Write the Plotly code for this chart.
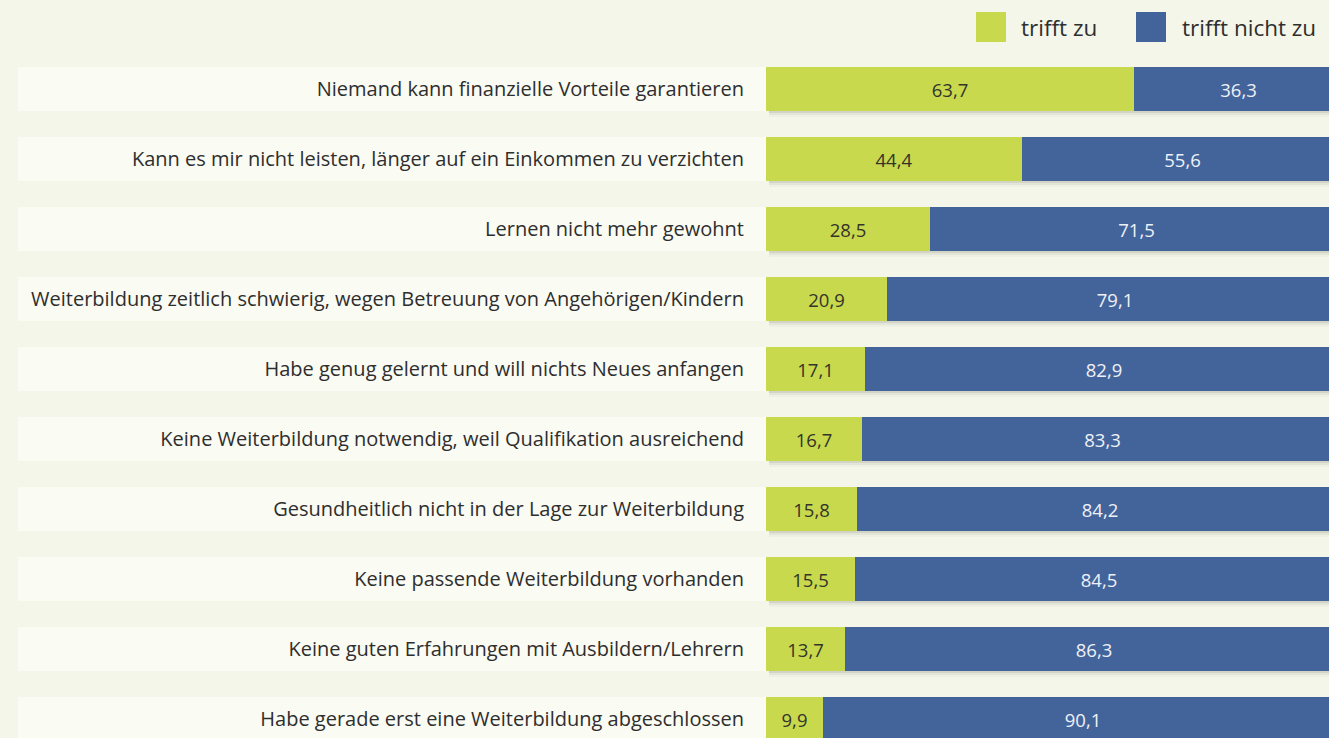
import plotly.graph_objects as go

categories = [
    "Niemand kann finanzielle Vorteile garantieren",
    "Kann es mir nicht leisten, länger auf ein Einkommen zu verzichten",
    "Lernen nicht mehr gewohnt",
    "Weiterbildung zeitlich schwierig, wegen Betreuung von Angehörigen/Kindern",
    "Habe genug gelernt und will nichts Neues anfangen",
    "Keine Weiterbildung notwendig, weil Qualifikation ausreichend",
    "Gesundheitlich nicht in der Lage zur Weiterbildung",
    "Keine passende Weiterbildung vorhanden",
    "Keine guten Erfahrungen mit Ausbildern/Lehrern",
    "Habe gerade erst eine Weiterbildung abgeschlossen",
]
trifft_zu = [63.7, 44.4, 28.5, 20.9, 17.1, 16.7, 15.8, 15.5, 13.7, 9.9]
trifft_nicht_zu = [36.3, 55.6, 71.5, 79.1, 82.9, 83.3, 84.2, 84.5, 86.3, 90.1]
series_names = ["trifft zu", "trifft nicht zu"]

W, H = 1329, 738
GREEN = "#c8d94e"
BLUE = "#43649b"
BG = "#f4f6ea"
BAND = "#fafbf3"
FONT = "Open Sans"

x_left_px = 766
px_per_pct = 577.0
x_max = (W - x_left_px) / px_per_pct * 100

pitch = 70.0
first_center = 89.0
r_top = -first_center / pitch
r_bot = r_top + H / pitch
bar_w = 44 / pitch

fig = go.Figure()
fig.add_trace(go.Bar(
    y=categories, x=trifft_zu, orientation="h", name=series_names[0],
    marker=dict(color=GREEN, line=dict(width=0)), width=bar_w,
    text=trifft_zu, texttemplate="%{x:.1f}", textposition="inside",
    insidetextanchor="middle", textangle=0,
    textfont=dict(family=FONT, size=18.5, color="#34342a"),
    showlegend=False, hoverinfo="skip",
))
fig.add_trace(go.Bar(
    y=categories, x=trifft_nicht_zu, orientation="h", name=series_names[1],
    marker=dict(color=BLUE, line=dict(width=0)), width=bar_w,
    text=trifft_nicht_zu, texttemplate="%{x:.1f}", textposition="inside",
    insidetextanchor="middle", textangle=0,
    textfont=dict(family=FONT, size=18.5, color="#eef1f7"),
    showlegend=False, hoverinfo="skip",
))

shapes = []
for i in range(len(categories)):
    shapes.append(dict(type="rect", xref="paper", yref="y",
                       x0=18 / W, x1=x_left_px / W,
                       y0=i - bar_w / 2, y1=i + bar_w / 2,
                       fillcolor=BAND, line=dict(width=0), layer="below"))
    for k, a in enumerate([0.10, 0.06, 0.03]):
        shapes.append(dict(type="rect", xref="paper", yref="y",
                           x0=(x_left_px + 3) / W, x1=1,
                           y0=i + bar_w / 2, y1=i + bar_w / 2 + (2 + 2 * k) / pitch,
                           fillcolor=f"rgba(60,60,40,{a})", line=dict(width=0), layer="below"))

leg = [(976, GREEN, 1019, series_names[0]), (1136, BLUE, 1180, series_names[1])]
annotations = []
for x0, col, tx, name in leg:
    shapes.append(dict(type="rect", xref="paper", yref="paper",
                       x0=x0 / W, x1=(x0 + 30) / W,
                       y0=1 - 42 / H, y1=1 - 12 / H,
                       fillcolor=col, line=dict(width=0)))
    annotations.append(dict(xref="paper", yref="paper", x=tx / W, y=1 - 28 / H,
                            text=name, showarrow=False, xanchor="left", yanchor="middle",
                            font=dict(family=FONT, size=22.5, color="#2e2e2e")))

fig.update_layout(
    width=W, height=H,
    barmode="stack",
    bargap=0,
    margin=dict(l=0, r=0, t=0, b=0),
    paper_bgcolor=BG, plot_bgcolor=BG,
    separators=", ",
    font=dict(family=FONT, size=20, color="#2e2e2e"),
    shapes=shapes, annotations=annotations,
    uniformtext=dict(mode=False),
)
fig.update_xaxes(domain=[x_left_px / W, 1], range=[0, x_max], visible=False,
                 showgrid=False, zeroline=False, fixedrange=True)
fig.update_yaxes(categoryorder="array", categoryarray=categories,
                 range=[r_bot, r_top], showgrid=False, zeroline=False,
                 showline=False, ticks="", ticklabelstandoff=21,
                 tickfont=dict(family=FONT, size=20, color="#2e2e2e"),
                 fixedrange=True)

fig.write_html("out.html", config={"displayModeBar": False},
               post_script="document.body.style.margin='0';document.body.style.overflow='hidden';")
